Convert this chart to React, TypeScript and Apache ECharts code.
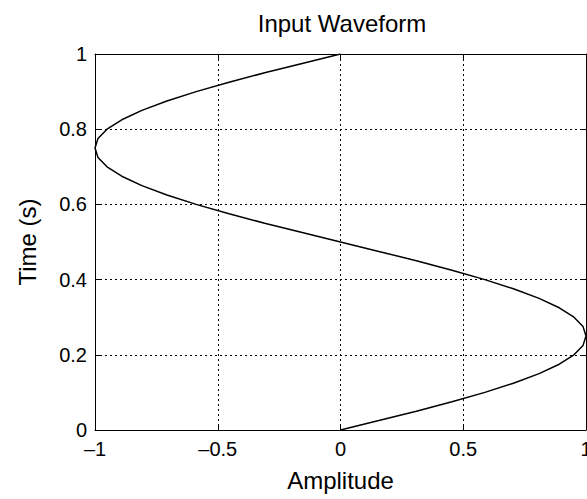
import React, { useEffect, useRef } from "react";
import * as echarts from "echarts";

const timeValues = [
  0, 0.025, 0.05, 0.075, 0.1, 0.125, 0.15, 0.175, 0.2, 0.225, 0.25,
  0.275, 0.3, 0.325, 0.35, 0.375, 0.4, 0.425, 0.45, 0.475, 0.5,
  0.525, 0.55, 0.575, 0.6, 0.625, 0.65, 0.675, 0.7, 0.725, 0.75,
  0.775, 0.8, 0.825, 0.85, 0.875, 0.9, 0.925, 0.95, 0.975, 1,
];
const amplitudeValues = [
  0, 0.156, 0.309, 0.454, 0.588, 0.707, 0.809, 0.891, 0.951, 0.988, 1,
  0.988, 0.951, 0.891, 0.809, 0.707, 0.588, 0.454, 0.309, 0.156, 0,
  -0.156, -0.309, -0.454, -0.588, -0.707, -0.809, -0.891, -0.951, -0.988, -1,
  -0.988, -0.951, -0.891, -0.809, -0.707, -0.588, -0.454, -0.309, -0.156, 0,
];
const xTicks = [-1, -0.5, 0, 0.5, 1];
const yTicks = [0, 0.2, 0.4, 0.6, 0.8, 1];

const FONT = "'Liberation Sans', Arial, Helvetica, sans-serif";

export default function App() {
  const ref = useRef<HTMLDivElement>(null);
  useEffect(() => {
    if (!ref.current) return;
    const chart = echarts.init(ref.current, null, { renderer: "svg" });
    const fmt = (v: number) => String(v).replace("-", "\u2013");
    const gridLine = { show: true, lineStyle: { color: "#000", width: 1, type: [2, 3] as any } };
    const tickInside = { show: true, inside: true, length: 6, lineStyle: { color: "#000", width: 1 } };
    const line = { show: true, onZero: false, lineStyle: { color: "#000", width: 1 } };
    chart.setOption({
      animation: false,
      backgroundColor: "#fff",
      textStyle: { fontFamily: FONT },
      graphic: [
        {
          type: "text",
          x: 342,
          y: 23,
          style: {
            text: "Input Waveform",
            fontSize: 24,
            fontFamily: FONT,
            fill: "#000",
            textAlign: "center",
            textVerticalAlign: "middle",
          },
        },
      ],
      grid: {
        left: 95,
        right: 1,
        top: 54,
        bottom: 69,
        containLabel: false,
        outerBoundsMode: "none",
      },
      xAxis: [
        {
          type: "value",
          min: xTicks[0],
          max: xTicks[xTicks.length - 1],
          interval: 0.5,
          position: "bottom",
          name: "Amplitude",
          nameLocation: "middle",
          nameGap: 38,
          nameTextStyle: { fontSize: 24, color: "#000", fontFamily: FONT },
          axisLine: line,
          axisTick: tickInside,
          axisLabel: { fontSize: 20, color: "#000", margin: 9, formatter: fmt, fontFamily: FONT },
          splitLine: gridLine,
        },
        {
          type: "value",
          min: xTicks[0],
          max: xTicks[xTicks.length - 1],
          interval: 0.5,
          position: "top",
          axisLine: line,
          axisTick: tickInside,
          axisLabel: { show: false },
          splitLine: { show: false },
        },
      ],
      yAxis: [
        {
          type: "value",
          min: yTicks[0],
          max: yTicks[yTicks.length - 1],
          interval: 0.2,
          position: "left",
          name: "Time (s)",
          nameLocation: "middle",
          nameGap: 56,
          nameTextStyle: { fontSize: 24, color: "#000", fontFamily: FONT },
          axisLine: line,
          axisTick: tickInside,
          axisLabel: { fontSize: 20, color: "#000", margin: 8, fontFamily: FONT },
          splitLine: gridLine,
        },
        {
          type: "value",
          min: yTicks[0],
          max: yTicks[yTicks.length - 1],
          interval: 0.2,
          position: "right",
          axisLine: line,
          axisTick: tickInside,
          axisLabel: { show: false },
          splitLine: { show: false },
        },
      ],
      series: [
        {
          type: "line",
          xAxisIndex: 0,
          yAxisIndex: 0,
          data: timeValues.map((t, i) => [amplitudeValues[i], t]),
          showSymbol: false,
          symbol: "none",
          smooth: false,
          lineStyle: { color: "#000", width: 1.5 },
        },
      ],
    });
    return () => chart.dispose();
  }, []);
  return (
    <div
      ref={ref}
      style={{ position: "fixed", left: 0, top: 0, width: 587, height: 499 }}
    />
  );
}
